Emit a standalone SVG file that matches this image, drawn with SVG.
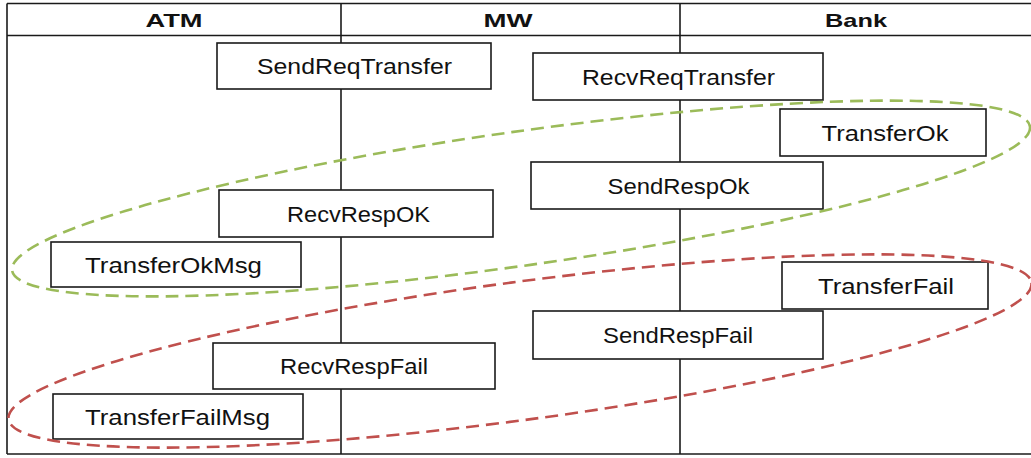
<svg xmlns="http://www.w3.org/2000/svg" width="1031" height="458" viewBox="0 0 1031 458">
  <style>
    .frame { stroke: #1a1a1a; stroke-width: 1.6; fill: none; }
    .box { fill: #ffffff; stroke: #1a1a1a; stroke-width: 1.6; }
    .lbl { font-family: "Liberation Sans", Arial, sans-serif; font-size: 22px; fill: #111111; text-anchor: middle; }
    .head { font-family: "Liberation Sans", Arial, sans-serif; font-size: 19px; font-weight: bold; fill: #111111; text-anchor: middle; }
    .grp { fill: none; stroke-width: 2.6; stroke-dasharray: 13 7; }
    .ok { stroke: #9bbb59; }
    .fail { stroke: #c0504d; }
  </style>

  <rect x="0" y="0" width="1031" height="458" fill="#ffffff"/>

  <!-- swimlane table: outer frame, header row and lane dividers -->
  <g id="lanes">
    <line class="frame" x1="7" y1="3.5" x2="1031" y2="3.5"/>
    <line class="frame" x1="7" y1="35.5" x2="1031" y2="35.5"/>
    <line class="frame" x1="7" y1="454" x2="1031" y2="454"/>
    <line class="frame" x1="7" y1="3.5" x2="7" y2="454"/>
    <line class="frame" x1="341" y1="3.5" x2="341" y2="454"/>
    <line class="frame" x1="680" y1="3.5" x2="680" y2="454"/>
    <text class="head" x="174" y="27" textLength="57" lengthAdjust="spacingAndGlyphs">ATM</text>
    <text class="head" x="508" y="27" textLength="49" lengthAdjust="spacingAndGlyphs">MW</text>
    <text class="head" x="856" y="27" textLength="62" lengthAdjust="spacingAndGlyphs">Bank</text>
  </g>

  <!-- steps -->
  <g id="send-req-transfer">
    <rect class="box" x="217" y="43" width="274" height="46"/>
    <text class="lbl" x="354.5" y="74" textLength="195" lengthAdjust="spacingAndGlyphs">SendReqTransfer</text>
  </g>
  <g id="recv-req-transfer">
    <rect class="box" x="533" y="53" width="290" height="47"/>
    <text class="lbl" x="678.5" y="84.5" textLength="193" lengthAdjust="spacingAndGlyphs">RecvReqTransfer</text>
  </g>
  <g id="transfer-ok">
    <rect class="box" x="780" y="109" width="206" height="47"/>
    <text class="lbl" x="885" y="140.5" textLength="127" lengthAdjust="spacingAndGlyphs">TransferOk</text>
  </g>
  <g id="send-resp-ok">
    <rect class="box" x="531" y="162" width="292" height="47"/>
    <text class="lbl" x="678.5" y="193.5" textLength="142" lengthAdjust="spacingAndGlyphs">SendRespOk</text>
  </g>
  <g id="recv-resp-ok">
    <rect class="box" x="219" y="190" width="274" height="47"/>
    <text class="lbl" x="358.5" y="221.5" textLength="143" lengthAdjust="spacingAndGlyphs">RecvRespOK</text>
  </g>
  <g id="transfer-ok-msg">
    <rect class="box" x="51" y="242" width="250" height="45"/>
    <text class="lbl" x="173.5" y="272.5" textLength="177" lengthAdjust="spacingAndGlyphs">TransferOkMsg</text>
  </g>
  <g id="transfer-fail">
    <rect class="box" x="782" y="262" width="206" height="47"/>
    <text class="lbl" x="886" y="293.5" textLength="136" lengthAdjust="spacingAndGlyphs">TransferFail</text>
  </g>
  <g id="send-resp-fail">
    <rect class="box" x="533" y="311" width="290" height="48"/>
    <text class="lbl" x="678" y="343" textLength="150" lengthAdjust="spacingAndGlyphs">SendRespFail</text>
  </g>
  <g id="recv-resp-fail">
    <rect class="box" x="213" y="343" width="282" height="46"/>
    <text class="lbl" x="354" y="374" textLength="148" lengthAdjust="spacingAndGlyphs">RecvRespFail</text>
  </g>
  <g id="transfer-fail-msg">
    <rect class="box" x="53" y="394" width="250" height="45"/>
    <text class="lbl" x="177.5" y="424.5" textLength="185" lengthAdjust="spacingAndGlyphs">TransferFailMsg</text>
  </g>

  <!-- dashed outlines grouping the success and failure paths -->
  <g id="connectors">
    <ellipse class="grp ok" cx="521" cy="198.5" rx="514" ry="67" transform="rotate(-8.05 521 198.5)"/>
    <ellipse class="grp fail" cx="520" cy="351" rx="516" ry="69" transform="rotate(-7.6 520 351)"/>
  </g>
</svg>
